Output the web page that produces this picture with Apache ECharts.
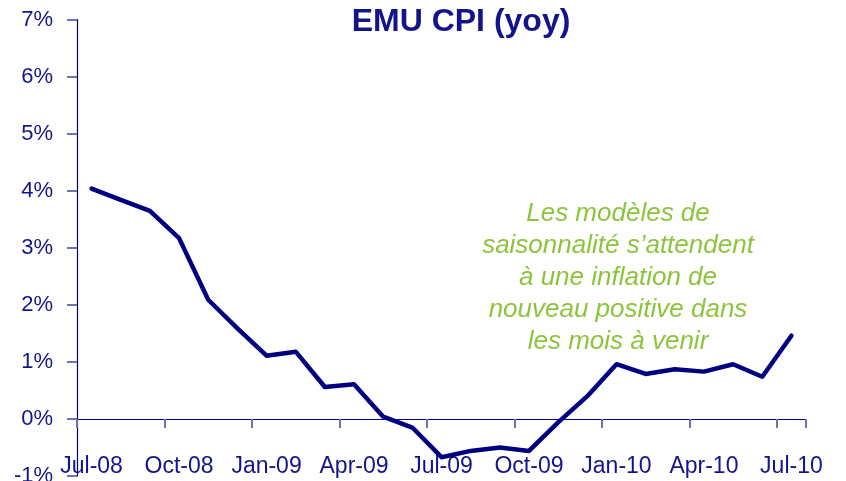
<!DOCTYPE html>
<html>
<head>
<meta charset="utf-8">
<script src="https://cdn.jsdelivr.net/npm/echarts@6/dist/echarts.min.js"></script>
<style>
  html, body { margin: 0; padding: 0; background: #ffffff; }
  #chart { width: 846px; height: 481px; }
</style>
</head>
<body>
<div id="chart"></div>
<script>
// Monthly categories, Jul-08 .. Jul-10
const months = [
  'Jul-08', 'Aug-08', 'Sep-08', 'Oct-08', 'Nov-08', 'Dec-08',
  'Jan-09', 'Feb-09', 'Mar-09', 'Apr-09', 'May-09', 'Jun-09',
  'Jul-09', 'Aug-09', 'Sep-09', 'Oct-09', 'Nov-09', 'Dec-09',
  'Jan-10', 'Feb-10', 'Mar-10', 'Apr-10', 'May-10', 'Jun-10',
  'Jul-10'
];

// Euro area CPI, year-on-year change (%)
const cpiYoy = [
  4.04, 3.84, 3.65, 3.17, 2.09, 1.59,
  1.11, 1.18, 0.56, 0.61, 0.04, -0.15,
  -0.67, -0.56, -0.50, -0.56, -0.06, 0.40,
  0.96, 0.79, 0.87, 0.83, 0.96, 0.74,
  1.46
];

// Y axis range and step (%)
const yMin = -1;
const yMax = 7;
const yStep = 1;

// Quarterly ticks: every third month
const quarterIdx = months.map((m, i) => i).filter(i => i % 3 === 0);

// Commentary lines
const noteLines = [
  'Les modèles de',
  'saisonnalité s\u2019attendent',
  'à une inflation de',
  'nouveau positive dans',
  'les mois à venir'
];

const navy = '#000080';
const textNavy = '#14148a';
const green = '#8cc43c';

const chart = echarts.init(document.getElementById('chart'), null, { renderer: 'canvas' });

chart.setOption({
  backgroundColor: '#ffffff',
  animation: false,
  title: {
    text: 'EMU CPI (yoy)',
    left: 456,
    top: 1,
    textAlign: 'center',
    textStyle: {
      color: textNavy,
      fontFamily: 'Liberation Sans',
      fontWeight: 'bold',
      fontSize: 32
    }
  },
  grid: {
    left: 77,
    right: 40,
    top: 19.7,
    bottom: 5,
    containLabel: false,
    outerBoundsMode: 'none'
  },
  xAxis: [
    {
      // zero line with its ticks
      type: 'category',
      data: months,
      boundaryGap: true,
      axisLine: {
        onZero: true,
        lineStyle: { color: navy, width: 1.2 }
      },
      axisTick: {
        show: true,
        customValues: quarterIdx,
        length: 9,
        lineStyle: { color: '#7070b8', width: 2 }
      },
      axisLabel: { show: false },
      splitLine: { show: false }
    },
    {
      // month labels along the bottom edge
      type: 'category',
      data: months,
      position: 'bottom',
      boundaryGap: true,
      axisLine: { show: false, onZero: false },
      axisTick: { show: false },
      axisLabel: {
        interval: 2,
        margin: -21,
        color: textNavy,
        fontFamily: 'Liberation Sans',
        fontSize: 23
      },
      splitLine: { show: false }
    }
  ],
  yAxis: {
    type: 'value',
    min: yMin,
    max: yMax,
    interval: yStep,
    axisLine: {
      show: true,
      lineStyle: { color: navy, width: 1.2 }
    },
    axisTick: {
      show: true,
      length: 10,
      lineStyle: { color: '#7070b8', width: 2 }
    },
    axisLabel: {
      margin: 24,
      color: textNavy,
      fontFamily: 'Liberation Sans',
      fontSize: 22,
      formatter: '{value}%'
    },
    splitLine: { show: false }
  },
  graphic: [
    {
      type: 'text',
      x: 618,
      y: 198,
      style: {
        text: noteLines.join('\n'),
        align: 'center',
        verticalAlign: 'top',
        fill: green,
        fontFamily: 'Liberation Sans',
        fontStyle: 'italic',
        fontSize: 26,
        lineHeight: 32
      }
    }
  ],
  series: [
    {
      name: 'EMU CPI (yoy)',
      type: 'line',
      xAxisIndex: 0,
      data: cpiYoy,
      symbol: 'none',
      smooth: false,
      lineStyle: { color: navy, width: 4.5, join: 'round', cap: 'round' }
    }
  ]
});
</script>
</body>
</html>
